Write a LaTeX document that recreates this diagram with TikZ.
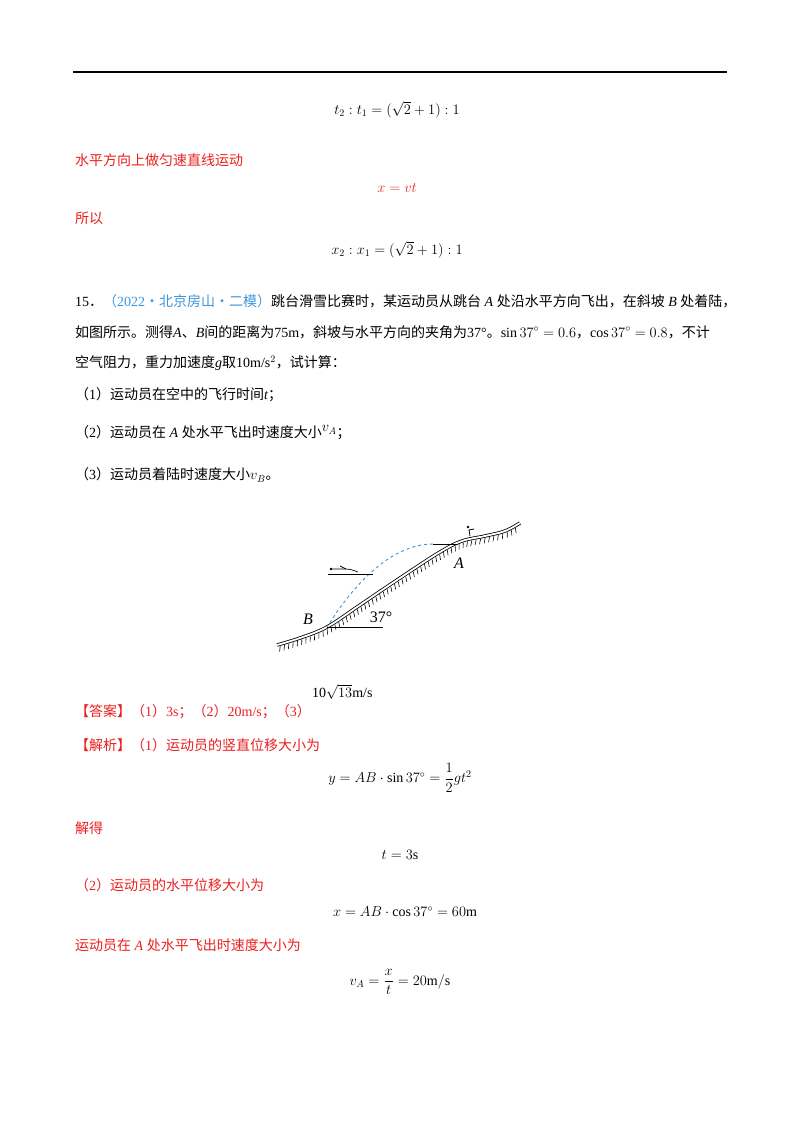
\documentclass[tikz,border=0pt]{standalone}
\usepackage{amsmath}
\usepackage{fontspec}
\setmainfont{Noto Sans CJK SC}
\setmathrm{Liberation Serif}
\newfontfamily\lt{Liberation Serif}
\usetikzlibrary{decorations.markings}
\definecolor{rd}{RGB}{235,30,30}
\definecolor{bl}{RGB}{60,150,220}
\begin{document}
\begin{tikzpicture}[x=1pt,y=-1pt,
  tx/.style={anchor=west,inner sep=0pt,font=\fontsize{14}{16}\selectfont},
  eq/.style={inner sep=0pt,font=\fontsize{14}{16}\selectfont},
  red/.style={text=rd}]
\useasboundingbox (0,0) rectangle (800,1132);
\draw[line width=1.3pt] (73,72) -- (727,72);
\node[eq] (e1) at (397,110) {$t_2:t_1=(\sqrt{2}+1):1$};
\node[tx,red] (r1) at (75,160) {水平方向上做匀速直线运动};
\node[eq,text=rd] (e2) at (397,188) {$x=vt$};
\node[tx,red] (r2) at (75,218) {所以};
\node[eq] (e3) at (397,250) {$x_2:x_1=(\sqrt{2}+1):1$};
\node[tx] (p1) at (75,301) {{\lt 15}．\textcolor{bl}{（{\lt 2022}·北京房山·二模）}跳台滑雪比赛时，某运动员从跳台{\lt\itshape\ A }处沿水平方向飞出，在斜坡{\lt\itshape\ B }处着陆，};
\node[tx] (p2) at (75,332) {如图所示。测得{\lt\itshape A}、{\lt\itshape B}间的距离为{\lt 75m}，斜坡与水平方向的夹角为{\lt 37°}。$\sin37^\circ=0.6$，$\cos37^\circ=0.8$，不计};
\node[tx] (p3) at (75,363) {空气阻力，重力加速度{\lt\itshape g}取{\lt 10m/s$^2$}，试计算：};
\node[tx] (q1) at (75,395) {（{\lt 1}）运动员在空中的飞行时间{\lt\itshape t}；};
\node[tx] (q2) at (75,433) {（{\lt 2}）运动员在{\lt\itshape\ A }处水平飞出时速度大小\raisebox{6pt}{$v_A$}；};
\node[tx] (q3) at (75,475) {（{\lt 3}）运动员着陆时速度大小$v_B$。};
% diagram
\draw[line width=0.8pt,double,double distance=1.8pt,
  postaction={decorate,decoration={markings,mark=between positions 0.01 and 0.99 step 4.5pt with {\draw[line width=0.6pt] (0pt,-2pt)--(-2pt,-7pt);}}}]
  plot[smooth,tension=0.6] coordinates {(277,645) (300,638) (327,627) (360,605) (400,578) (440,552) (462,541) (485,536) (505,531) (520,523)};
\coordinate (B) at (327,627);
\coordinate (T) at (433,544);
\draw[bl,dashed,line width=0.9pt] (T) parabola (B);
\draw[line width=0.8pt] (T) -- (458,544);
\draw[line width=0.8pt] (B) -- (383,627);
\draw[line width=0.8pt] (328,574) -- (373,574);
\draw[line width=0.7pt] (331,569) -- (345,569) to[out=0,in=160] (358,572);
\fill (331,569) circle (1.3pt);
\draw[line width=0.8pt] (340,566) -- (346,569);
\draw[line width=0.8pt] (470,536) -- (469,530) -- (474,529);
\fill (468,527) circle (1.3pt);
\node[inner sep=0pt,font=\fontsize{16}{18}\selectfont\lt\itshape] (A) at (459,563) {A};
\node[inner sep=0pt,font=\fontsize{16}{18}\selectfont\lt\itshape] (Bl) at (308,619) {B};
\node[inner sep=0pt,font=\fontsize{16}{18}\selectfont\lt] (ang) at (381,617) {37°};
% answer
\node[tx,red] (ans) at (75,712) {【答案】（{\lt 1}）{\lt 3s}；（{\lt 2}）{\lt 20m/s}；（{\lt 3}）};
\node[tx] (ans2) at (312,692) {{\lt 10}$\sqrt{13}${\lt m/s}};
\node[tx,red] (jx) at (75,745) {【解析】（{\lt 1}）运动员的竖直位移大小为};
\node[eq] (e4) at (400,778) {$y=AB\cdot\sin37^\circ=\dfrac12gt^2$};
\node[tx,red] (r3) at (75,828) {解得};
\node[eq] (e5) at (400,855) {$t=3\mathrm{s}$};
\node[tx,red] (r4) at (75,885) {（{\lt 2}）运动员的水平位移大小为};
\node[eq] (e6) at (405,912) {$x=AB\cdot\cos37^\circ=60\mathrm{m}$};
\node[tx,red] (r5) at (75,945) {运动员在{\lt\itshape\ A }处水平飞出时速度大小为};
\node[eq] (e7) at (400,982) {$v_A=\dfrac{x}{t}=20\mathrm{m/s}$};
\end{tikzpicture}
\end{document}
